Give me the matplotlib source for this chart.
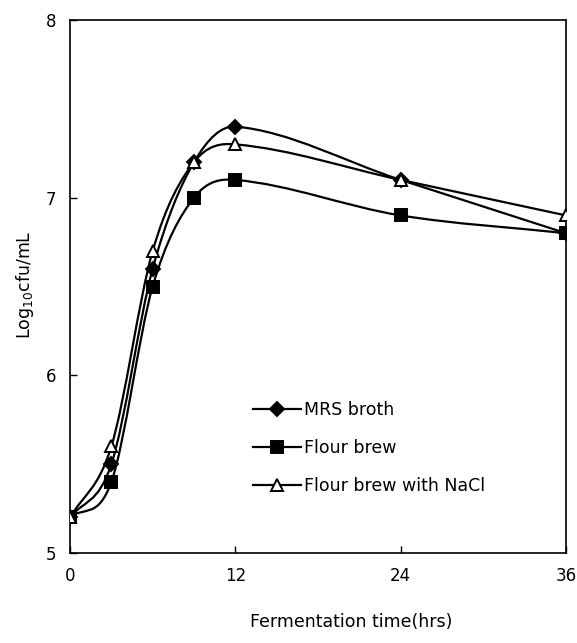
import matplotlib
matplotlib.use("Agg")
import matplotlib.pyplot as plt
from matplotlib.path import Path
from matplotlib.patches import PathPatch
from matplotlib.lines import Line2D

plt.rcParams['font.family'] = ['DejaVu Sans']

time_hrs = [0, 3, 6, 9, 12, 24, 36]
mrs_broth = [5.2, 5.5, 6.6, 7.2, 7.4, 7.1, 6.8]
flour_brew = [5.2, 5.4, 6.5, 7.0, 7.1, 6.9, 6.8]
flour_brew_nacl = [5.2, 5.6, 6.7, 7.2, 7.3, 7.1, 6.9]

series_labels = ["MRS broth", "Flour brew", "Flour brew with NaCl"]
x_ticks = [0, 12, 24, 36]
y_ticks = [5, 6, 7, 8]

fig = plt.figure(figsize=(5.77, 6.43), dpi=100)
ax = fig.add_axes([70/577, 1-553/643, 496/577, 533/643])


def smooth_path(xs, ys):
    """Cubic Hermite (finite-difference tangents) as a Bezier path."""
    n = len(xs)
    m = []
    for i in range(n):
        if i == 0:
            m.append((ys[1] - ys[0]) / (xs[1] - xs[0]))
        elif i == n - 1:
            m.append((ys[-1] - ys[-2]) / (xs[-1] - xs[-2]))
        else:
            m.append((ys[i + 1] - ys[i - 1]) / (xs[i + 1] - xs[i - 1]))
    verts = [(xs[0], ys[0])]
    codes = [Path.MOVETO]
    for i in range(n - 1):
        h = xs[i + 1] - xs[i]
        c1 = (xs[i] + h / 3, ys[i] + m[i] * h / 3)
        c2 = (xs[i + 1] - h / 3, ys[i + 1] - m[i + 1] * h / 3)
        verts += [c1, c2, (xs[i + 1], ys[i + 1])]
        codes += [Path.CURVE4] * 3
    return Path(verts, codes)


styles = [
    dict(marker='D', mfc='black', ms=7),
    dict(marker='s', mfc='black', ms=8.5),
    dict(marker='^', mfc='white', ms=8.5),
]
data = [mrs_broth, flour_brew, flour_brew_nacl]
handles = []
for ys, st, lab in zip(data, styles, series_labels):
    ax.add_patch(PathPatch(smooth_path(time_hrs, ys), fill=False,
                           edgecolor='black', lw=1.6, zorder=2))
    ax.plot(time_hrs, ys, linestyle='none', color='black', mec='black',
            mew=1.4, zorder=3, **st)
    handles.append(Line2D([], [], color='black', lw=1.6, mec='black',
                          mew=1.4, **st))

ax.set_xlim(0, 36)
ax.set_ylim(5, 8)
ax.set_xticks(x_ticks)
ax.set_yticks(y_ticks)
ax.tick_params(direction='in', length=5, width=1, labelsize=12, pad=10)
for s in ax.spines.values():
    s.set_linewidth(1.2)

ax.legend(handles, series_labels, loc='center left',
          bbox_to_anchor=(0.368, 0.197), frameon=False, fontsize=12.5,
          handlelength=2.8, handletextpad=0.15, labelspacing=1.15,
          borderpad=0, borderaxespad=0)

fig.text(351/577, 1-622/643, "Fermentation time(hrs)", ha='center',
         va='center', fontsize=12.5)
fig.text(25/577, 1-285/643, "Log$_{10}$cfu/mL", ha='center', va='center',
         rotation=90, fontsize=12.5)

fig.savefig("out.png", dpi=100)
